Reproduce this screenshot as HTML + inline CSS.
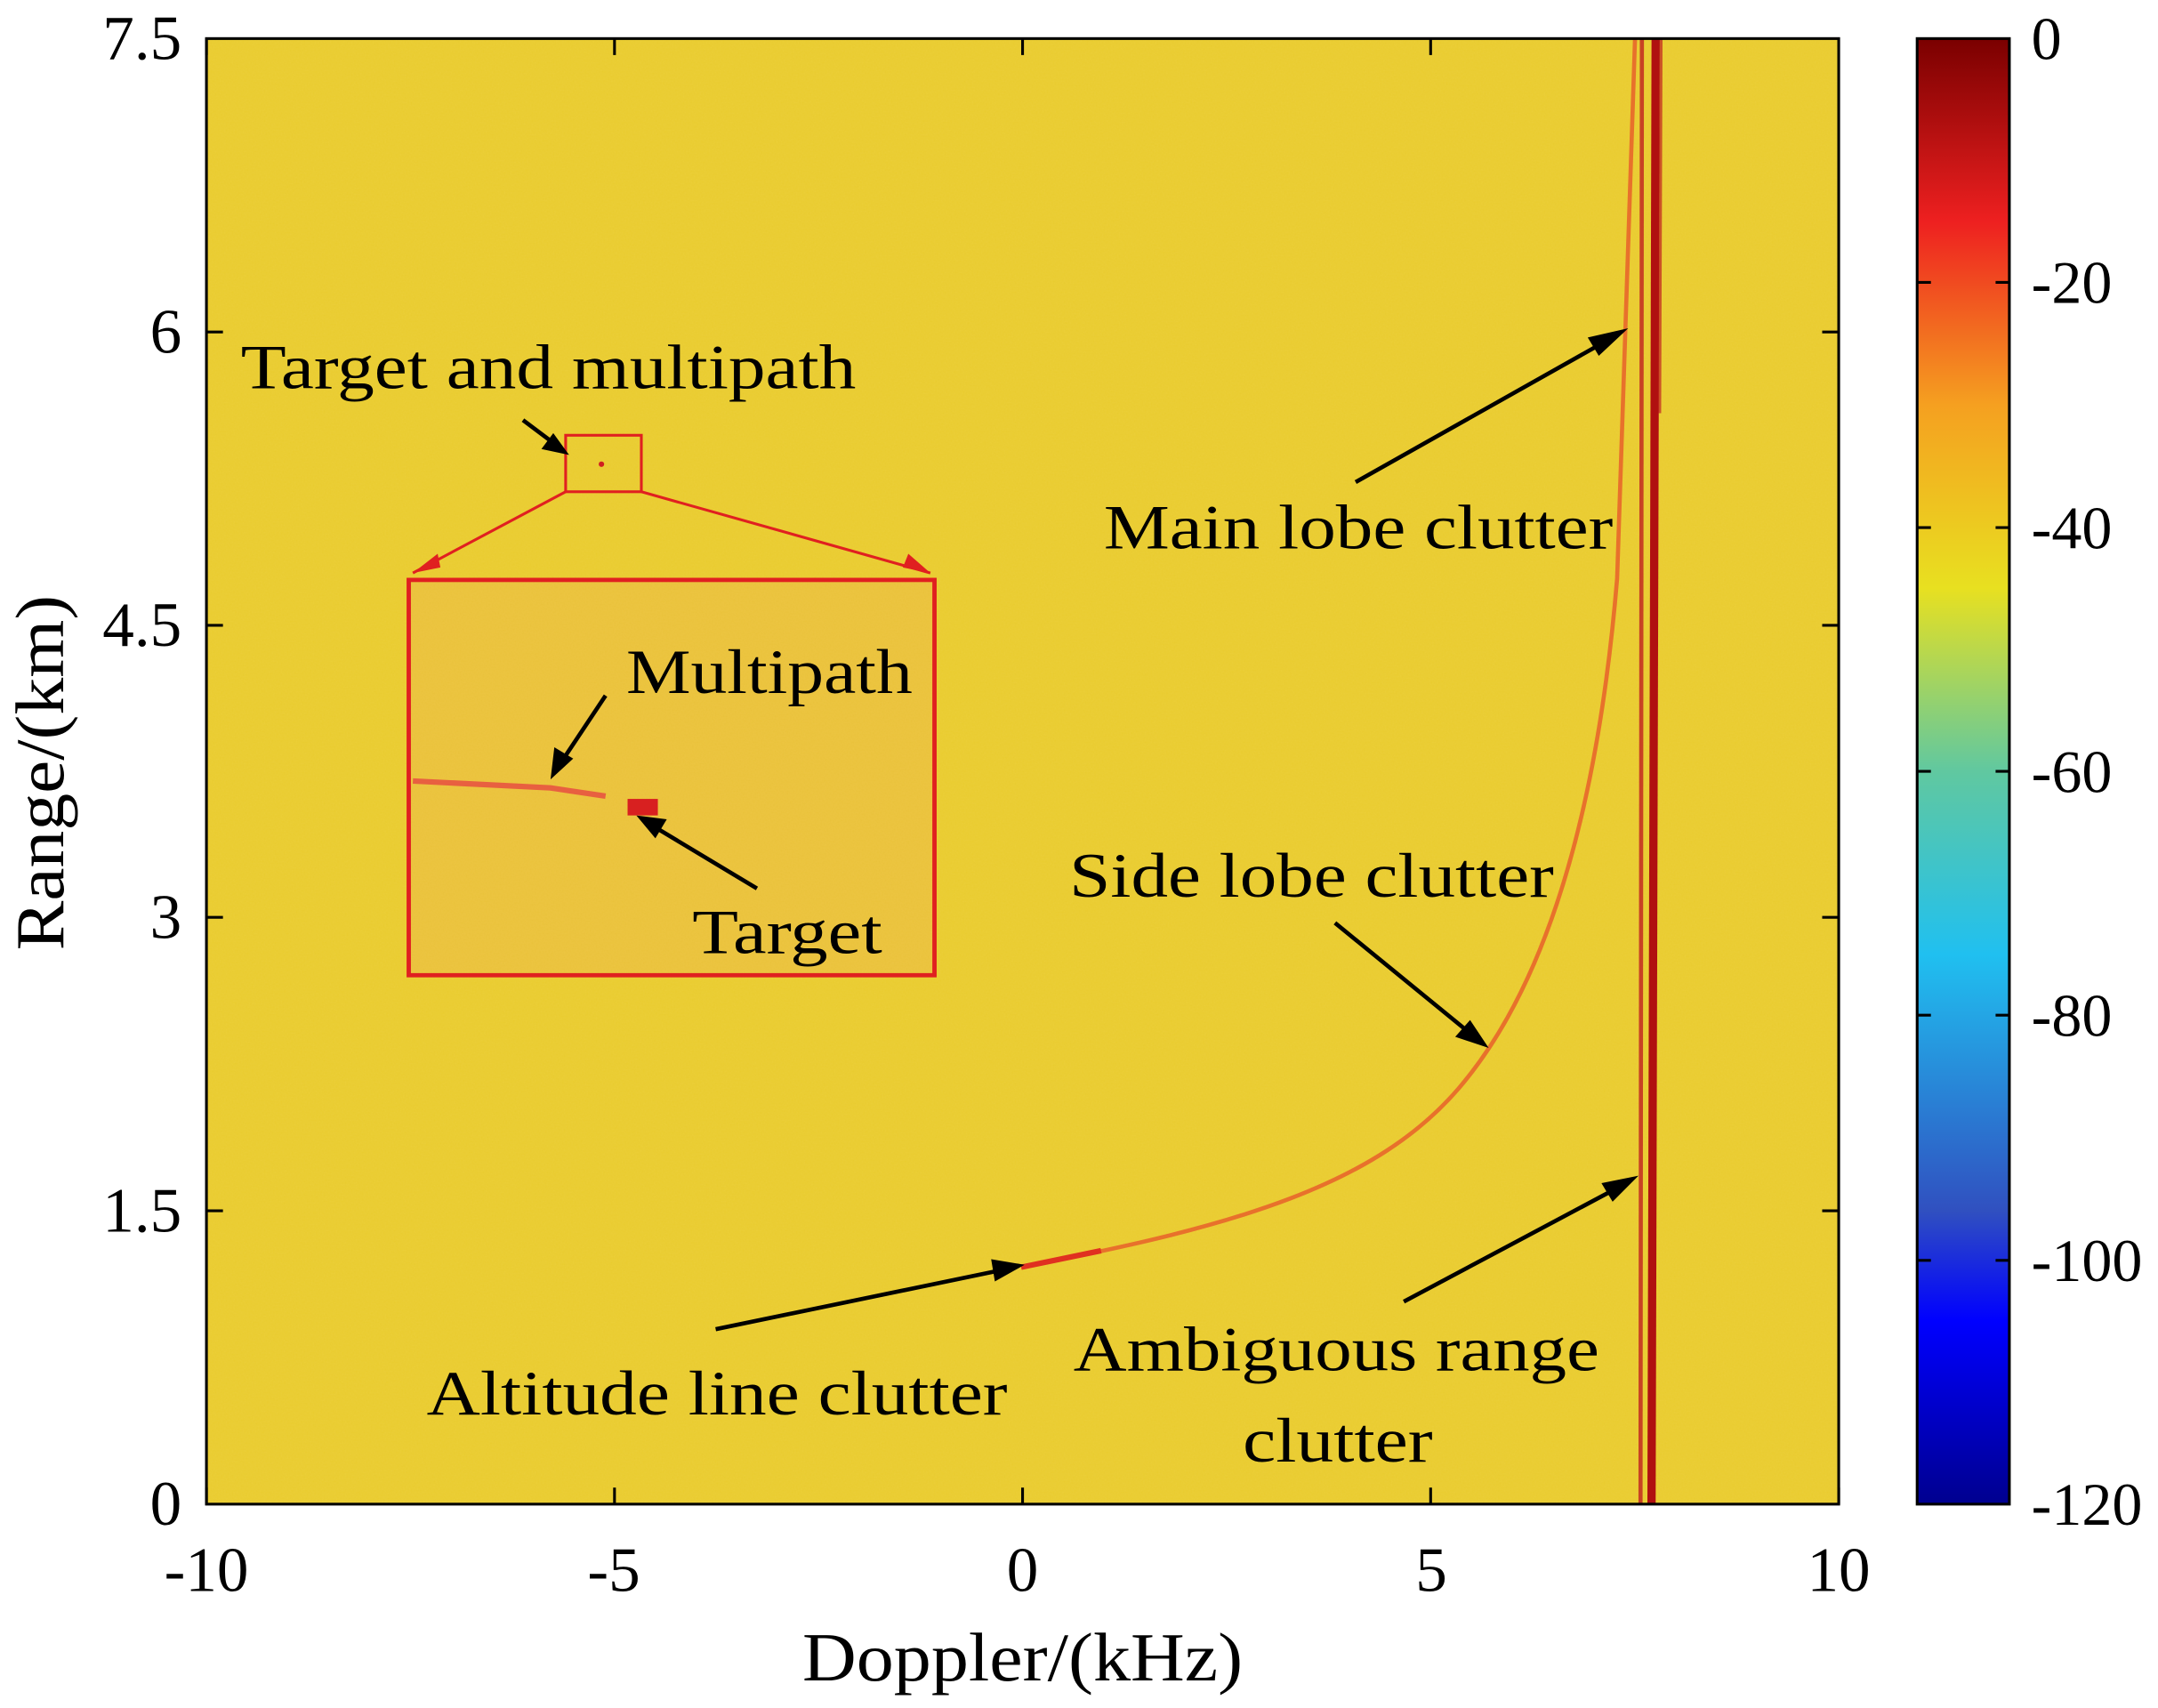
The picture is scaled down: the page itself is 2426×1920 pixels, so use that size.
<!DOCTYPE html>
<html><head><style>html,body{margin:0;padding:0;background:#fff}svg{display:block}</style></head>
<body>
<svg width="2426" height="1920" viewBox="0 0 1568 1240" preserveAspectRatio="none" xmlns="http://www.w3.org/2000/svg" font-family="Liberation Serif, serif">
<defs>
<linearGradient id="jet" x1="0" y1="1" x2="0" y2="0">
<stop offset="0" stop-color="#00008f"/>
<stop offset="0.125" stop-color="#0000ff"/>
<stop offset="0.2" stop-color="#3050c0"/>
<stop offset="0.375" stop-color="#20c0f0"/>
<stop offset="0.5" stop-color="#60c8a0"/>
<stop offset="0.625" stop-color="#e8e020"/>
<stop offset="0.75" stop-color="#f5a020"/>
<stop offset="0.875" stop-color="#ee2020"/>
<stop offset="1" stop-color="#7a0000"/>
</linearGradient>
<filter id="n" x="0" y="0" width="100%" height="100%">
<feTurbulence type="fractalNoise" baseFrequency="0.9" numOctaves="1" seed="3"/>
<feColorMatrix values="0 0 0 0 0.95  0 0 0 0 0.7  0 0 0 0 0.2  0 0 0 0.3 0"/>
</filter>
</defs>
<rect x="150" y="28" width="1186" height="1064" fill="#e9cc2e"/>
<rect x="150" y="28" width="1186" height="1064" filter="url(#n)" opacity="0.5"/>
<path d="M742,920 C900,890 1000,860 1060,790 C1120,720 1160,600 1175,420 L1188,28" fill="none" stroke="#e8602a" stroke-width="3" opacity="0.85"/>
<path d="M742,920 L800,908" stroke="#e03020" stroke-width="4"/>
<path d="M1203,28 L1200,1092" stroke="#b01010" stroke-width="6"/>
<path d="M1193,28 L1192,1092" stroke="#c02020" stroke-width="3" opacity="0.8"/>
<path d="M1207,28 L1206,300" stroke="#c02020" stroke-width="2" opacity="0.7"/>
<rect x="411" y="316" width="55" height="41" fill="none" stroke="#e02020" stroke-width="2"/>
<circle cx="437" cy="337" r="2" fill="#d02020"/>
<path d="M411,357 L300,416 M466,357 L676,416" stroke="#e02020" stroke-width="2"/>
<polygon points="300,416 318,402 320,412" fill="#e02020"/>
<polygon points="676,416 656,412 660,402" fill="#e02020"/>
<rect x="297" y="421" width="382" height="287" fill="#eac23a" stroke="#e02020" stroke-width="3"/>
<rect x="297" y="421" width="382" height="287" filter="url(#n)" opacity="0.5"/>
<rect x="297" y="421" width="382" height="287" fill="none" stroke="#e02020" stroke-width="3"/>
<path d="M300,567 L400,572 L440,578" stroke="#e86040" stroke-width="4" fill="none"/>
<rect x="456" y="580" width="22" height="12" fill="#d82020"/>
<g stroke="#000" stroke-width="3" fill="#000">
<line x1="380" y1="305" x2="404" y2="323"/><polygon points="410,328 396,325 402,317"/>
<line x1="985" y1="350" x2="1168" y2="247"/><polygon points="1178,241 1162,256 1156,246"/>
<line x1="970" y1="670" x2="1068" y2="750"/><polygon points="1078,758 1060,752 1068,743"/>
<line x1="520" y1="965" x2="728" y2="922"/><polygon points="740,919 724,928 722,916"/>
<line x1="1020" y1="945" x2="1176" y2="862"/><polygon points="1186,856 1172,870 1166,860"/>
<line x1="440" y1="505" x2="408" y2="553"/><polygon points="402,562 404,545 414,551"/>
<line x1="550" y1="645" x2="475" y2="600"/><polygon points="466,594 482,596 476,606"/>
</g>
<g font-size="46" fill="#000" lengthAdjust="spacingAndGlyphs">
<text x="175" y="282" textLength="447" lengthAdjust="spacingAndGlyphs">Target and multipath</text>
<text x="802" y="398" textLength="370" lengthAdjust="spacingAndGlyphs">Main lobe clutter</text>
<text x="777" y="651" textLength="352" lengthAdjust="spacingAndGlyphs">Side lobe clutter</text>
<text x="310" y="1027" textLength="422" lengthAdjust="spacingAndGlyphs">Altitude line clutter</text>
<text x="780" y="995" textLength="382" lengthAdjust="spacingAndGlyphs">Ambiguous range</text>
<text x="903" y="1061" textLength="138" lengthAdjust="spacingAndGlyphs">clutter</text>
<text x="455" y="503" textLength="208" lengthAdjust="spacingAndGlyphs">Multipath</text>
<text x="503" y="692" textLength="138" lengthAdjust="spacingAndGlyphs">Target</text>
</g>
<rect x="150" y="28" width="1186" height="1064" fill="none" stroke="#000" stroke-width="2"/>
<g stroke="#000" stroke-width="2">
<path d="M150,1092v-12M446.5,1092v-12M743,1092v-12M1039.5,1092v-12M1336,1092v-12M150,28v12M446.5,28v12M743,28v12M1039.5,28v12"/>
<path d="M150,879h12M150,666h12M150,454h12M150,241h12M1336,879h-12M1336,666h-12M1336,454h-12M1336,241h-12"/>
</g>
<g font-size="46" fill="#000" text-anchor="middle">
<text x="150" y="1155">-10</text><text x="446" y="1155">-5</text><text x="743" y="1155">0</text><text x="1040" y="1155">5</text><text x="1336" y="1155">10</text>
<text x="743" y="1220" font-size="50" textLength="320" lengthAdjust="spacingAndGlyphs">Doppler/(kHz)</text>
</g>
<g font-size="46" fill="#000" text-anchor="end">
<text x="132" y="1107">0</text><text x="132" y="894">1.5</text><text x="132" y="681">3</text><text x="132" y="469">4.5</text><text x="132" y="256">6</text><text x="132" y="43">7.5</text>
</g>
<text transform="translate(46,561) rotate(-90)" font-size="50" text-anchor="middle" textLength="258" lengthAdjust="spacingAndGlyphs">Range/(km)</text>
<rect x="1393" y="28" width="67" height="1064" fill="url(#jet)" stroke="#000" stroke-width="2"/>
<g stroke="#000" stroke-width="2">
<path d="M1460,205h-10M1460,383h-10M1460,560h-10M1460,737h-10M1460,915h-10M1393,205h10M1393,383h10M1393,560h10M1393,737h10M1393,915h10"/>
</g>
<g font-size="44" fill="#000">
<text x="1476" y="43">0</text><text x="1476" y="220">-20</text><text x="1476" y="398">-40</text><text x="1476" y="575">-60</text><text x="1476" y="752">-80</text><text x="1476" y="930">-100</text><text x="1476" y="1107">-120</text>
</g>
</svg>
</body></html>
